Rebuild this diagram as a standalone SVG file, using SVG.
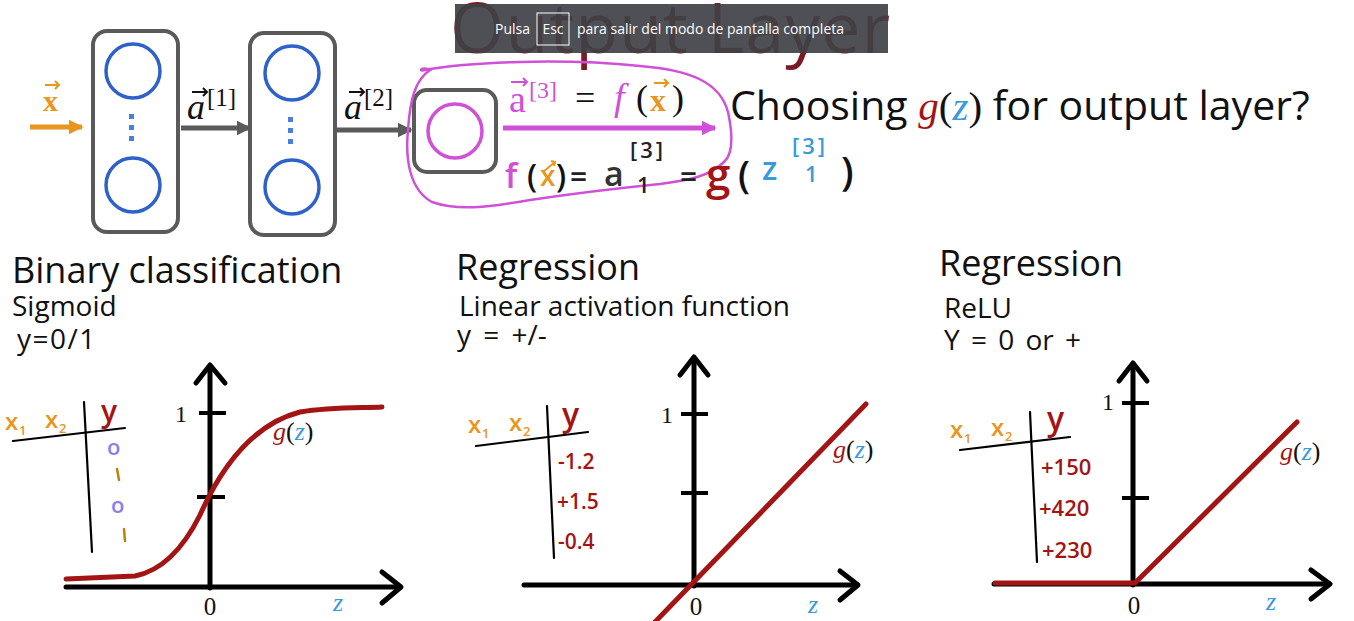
<svg xmlns="http://www.w3.org/2000/svg" width="1354" height="621" viewBox="0 0 1354 621">
<defs>
<style>
.box{fill:none;stroke:#5a5a5a;stroke-width:4}
.neu{fill:none;stroke:#2E62C9;stroke-width:3.5}
.dot{fill:#4A7FDB}
.ax{fill:none;stroke:#000;stroke-width:5;stroke-linecap:round;stroke-linejoin:round}
.tick{stroke:#000;stroke-width:4}
.crv{fill:none;stroke:#A31515;stroke-width:5;stroke-linecap:round;stroke-linejoin:round}
.hd{fill:none;stroke:#000;stroke-width:2.2;stroke-linecap:round}
.sans{font-family:"Open Sans","DejaVu Sans",sans-serif;fill:#111}
.serif{font-family:"Liberation Serif","DejaVu Serif",serif}
.hand{font-family:"Open Sans","DejaVu Sans",sans-serif;font-weight:600}
.red{fill:#A31515}
.blue{fill:#3A9AD9}
.org{fill:#E8961E}
.mag{fill:#D050D8}
</style>
<marker id="gh" viewBox="0 0 10 10" refX="9" refY="5" markerWidth="3" markerHeight="3.2" orient="auto"><path d="M0,0L10,5L0,10z" fill="#5a5a5a"/></marker>
<marker id="oh" viewBox="0 0 10 10" refX="9" refY="5" markerWidth="3" markerHeight="3.2" orient="auto"><path d="M0,0L10,5L0,10z" fill="#E8961E"/></marker>
<marker id="mh" viewBox="0 0 10 10" refX="9" refY="5" markerWidth="3" markerHeight="3.2" orient="auto"><path d="M0,0L10,5L0,10z" fill="#D050D8"/></marker>
</defs>
<rect width="1354" height="621" fill="#fff"/>

<!-- Title behind overlay -->
<text x="450" y="53" font-family="Open Sans, DejaVu Sans, sans-serif" font-size="70" fill="#7A1A22" textLength="440">Output Layer</text>
<g id="overlay">
<rect x="455" y="4" width="433" height="49" fill="#3f4147" opacity="0.92"/>
<text x="495" y="34" font-family="Open Sans, sans-serif" font-size="14" fill="#fff">Pulsa</text>
<rect x="537" y="13" width="32" height="32" fill="none" stroke="#fff" stroke-width="1"/>
<text x="553" y="34" text-anchor="middle" font-family="Open Sans, sans-serif" font-size="14" fill="#fff">Esc</text>
<text x="577" y="34" font-family="Open Sans, sans-serif" font-size="14" fill="#fff">para salir del modo de pantalla completa</text>
</g>

<!-- Network -->
<g id="input">
<text x="43" y="111" class="serif org" font-size="30" font-weight="bold">x</text>
<path d="M45,85 L59,85 M55,81 L59,85 L55,89" fill="none" stroke="#E8961E" stroke-width="2"/>
</g>
<g id="layer1">
<rect x="93" y="31" width="85" height="201" rx="14" class="box"/>
<circle cx="133" cy="71" r="27" class="neu"/>
<circle cx="133" cy="185" r="27" class="neu"/>
<rect x="129" y="114" width="5" height="5" class="dot"/>
<rect x="129" y="125" width="5" height="5" class="dot"/>
<rect x="129" y="136" width="5" height="5" class="dot"/>
</g>
<g id="layer2">
<rect x="250" y="33" width="85" height="202" rx="14" class="box"/>
<circle cx="292" cy="73" r="27" class="neu"/>
<circle cx="292" cy="187" r="27" class="neu"/>
<rect x="288" y="117" width="5" height="5" class="dot"/>
<rect x="288" y="128" width="5" height="5" class="dot"/>
<rect x="288" y="139" width="5" height="5" class="dot"/>
</g>
<g id="layer3">
<rect x="414" y="90" width="82" height="82" rx="13" class="box"/>
<circle cx="455" cy="131" r="27" fill="none" stroke="#D050D8" stroke-width="3.5"/>
</g>

<g id="connectors">
<line x1="30" y1="127" x2="82" y2="127" stroke="#E8961E" stroke-width="5" marker-end="url(#oh)"/>
<line x1="181" y1="128" x2="250" y2="128" stroke="#5a5a5a" stroke-width="5" marker-end="url(#gh)"/>
<line x1="337" y1="130" x2="411" y2="130" stroke="#5a5a5a" stroke-width="5" marker-end="url(#gh)"/>
<line x1="503" y1="128" x2="715" y2="128" stroke="#D050D8" stroke-width="5" marker-end="url(#mh)"/>
</g>

<g id="labels-a">
<text x="187" y="119" class="serif" font-size="36" font-style="italic" fill="#111">a</text>
<path d="M192,92 L207,92 M203,88 L207,92 L203,96" fill="none" stroke="#111" stroke-width="2"/>
<text x="207" y="106" class="serif" font-size="25" fill="#111">[1]</text>
<text x="344" y="119" class="serif" font-size="36" font-style="italic" fill="#111">a</text>
<path d="M349,92 L364,92 M360,88 L364,92 L360,96" fill="none" stroke="#111" stroke-width="2"/>
<text x="364" y="106" class="serif" font-size="25" fill="#111">[2]</text>
</g>

<!-- Magenta loop -->
<path d="M432,70 C420,66 418,72 425,70 C470,62 560,58 640,66 C690,70 720,82 728,112 C734,140 732,155 724,162 C710,176 690,180 660,184 C620,188 570,194 530,200 C495,206 460,212 432,202 C410,190 405,160 408,130 C410,100 415,80 430,70" fill="none" stroke="#D050D8" stroke-width="2.5"/>

<g id="eq-top">
<text x="509" y="112" class="serif mag" font-size="38">a</text>
<path d="M511,82 L527,82 M523,78 L527,82 L523,86" fill="none" stroke="#D050D8" stroke-width="2"/>
<text x="529" y="98" class="serif mag" font-size="24">[3]</text>
<text x="575" y="110" class="serif" font-size="36" fill="#111">=</text>
<text x="614" y="110" class="serif mag" font-size="38" font-style="italic">f</text>
<text x="636" y="110" class="serif" font-size="36" fill="#111">(</text>
<text x="650" y="111" class="serif org" font-size="32" font-weight="bold">x</text>
<path d="M654,83 L668,83 M664,79 L668,83 L664,87" fill="none" stroke="#E8961E" stroke-width="2"/>
<text x="672" y="110" class="serif" font-size="36" fill="#111">)</text>
</g>

<g id="eq-hand">
<text x="505" y="188" class="hand mag" font-size="34">f</text>
<text x="527" y="187" class="hand" font-size="32" fill="#111">(</text>
<text x="540" y="186" class="hand org" font-size="28">x</text>
<path d="M543,172 L555,162 M551,161 L555,162 L554,166" fill="none" stroke="#E8961E" stroke-width="2"/>
<text x="556" y="187" class="hand" font-size="32" fill="#111">)</text>
<text x="570" y="188" class="hand" font-size="30" fill="#222">=</text>
<text x="604" y="186" class="hand" font-size="34" fill="#333">a</text>
<text x="630" y="158" class="hand" font-size="22" fill="#222" letter-spacing="3">[3]</text>
<text x="637" y="193" class="hand" font-size="22" fill="#222">1</text>
<text x="680" y="188" class="hand" font-size="30" fill="#222">=</text>
<text x="706" y="190" class="hand red" font-size="44" font-weight="400">g</text>
<text x="738" y="188" class="hand" font-size="38" fill="#111">(</text>
<text x="762" y="180" class="hand blue" font-size="32">z</text>
<text x="792" y="154" class="hand blue" font-size="22" letter-spacing="3">[3]</text>
<text x="805" y="182" class="hand blue" font-size="22">1</text>
<text x="841" y="186" class="hand" font-size="40" fill="#111">)</text>
</g>

<g id="question">
<text x="730" y="120" class="sans" font-size="41">Choosing <tspan class="serif red" font-style="italic">g</tspan><tspan class="serif" fill="#111">(</tspan><tspan class="serif blue" font-style="italic">z</tspan><tspan class="serif" fill="#111">)</tspan> for output layer?</text>
</g>

<!-- Panel 1: sigmoid -->
<g id="panel-sigmoid">
<text x="12" y="283" class="sans" font-size="36">Binary classification</text>
<text x="12" y="316" class="sans" font-size="28">Sigmoid</text>
<text x="17" y="349" class="sans" font-size="28" letter-spacing="1.5">y=0/1</text>
<line x1="66" y1="587" x2="400" y2="587" class="ax"/>
<polyline points="382,572 401,587 382,603" class="ax"/>
<line x1="210" y1="588" x2="210" y2="366" class="ax"/>
<polyline points="196,383 210,365 225,383" class="ax"/>
<line x1="199" y1="413" x2="226" y2="413" class="tick"/>
<line x1="197" y1="497" x2="225" y2="497" class="tick"/>
<text x="187" y="422" text-anchor="end" class="serif" font-size="24" fill="#111">1</text>
<text x="210" y="615" text-anchor="middle" class="serif" font-size="25" fill="#111">0</text>
<text x="333" y="611" class="serif blue" font-size="26" font-style="italic">z</text>
<path d="M66,579 L135,576 C165,570 185,545 200,515 C220,470 250,425 300,412 C330,407 360,408 382,407" class="crv"/>
<text x="273" y="440" class="serif" font-size="26"><tspan class="red" font-style="italic">g</tspan><tspan fill="#111">(</tspan><tspan class="blue" font-style="italic">z</tspan><tspan fill="#111">)</tspan></text>
<text x="5" y="430" class="hand org" font-size="24">x</text><text x="19" y="435" class="hand org" font-size="13">1</text>
<text x="45" y="428" class="hand org" font-size="24">x</text><text x="59" y="433" class="hand org" font-size="13">2</text>
<path d="M13,441 L125,428" class="hd"/>
<path d="M84,402 L92,552" class="hd"/>
<text x="101" y="422" class="hand red" font-size="30">y</text>
<text x="107" y="455" class="hand" font-size="22" fill="#8A7FE8">o</text>
<path d="M117,469 L119,480" stroke="#B8860B" stroke-width="2.5" stroke-linecap="round"/>
<text x="111" y="513" class="hand" font-size="22" fill="#8A7FE8">o</text>
<path d="M124,529 L125,541" stroke="#B8860B" stroke-width="2.5" stroke-linecap="round"/>
</g>

<!-- Panel 2: linear -->
<g id="panel-linear">
<text x="456" y="280" class="sans" font-size="36">Regression</text>
<text x="459" y="316" class="sans" font-size="28">Linear activation function</text>
<text x="457" y="345" class="sans" font-size="28" word-spacing="5">y = +/-</text>
<line x1="524" y1="585" x2="857" y2="585" class="ax"/>
<polyline points="840,571 858,585 840,600" class="ax"/>
<line x1="694" y1="586" x2="694" y2="358" class="ax"/>
<polyline points="680,375 694,357 708,375" class="ax"/>
<line x1="681" y1="414" x2="708" y2="414" class="tick"/>
<line x1="681" y1="493" x2="708" y2="493" class="tick"/>
<text x="673" y="423" text-anchor="end" class="serif" font-size="24" fill="#111">1</text>
<text x="696" y="615" text-anchor="middle" class="serif" font-size="25" fill="#111">0</text>
<text x="808" y="613" class="serif blue" font-size="26" font-style="italic">z</text>
<line x1="655" y1="622" x2="866" y2="404" class="crv"/>
<text x="833" y="458" class="serif" font-size="26"><tspan class="red" font-style="italic">g</tspan><tspan fill="#111">(</tspan><tspan class="blue" font-style="italic">z</tspan><tspan fill="#111">)</tspan></text>
<text x="468" y="433" class="hand org" font-size="24">x</text><text x="482" y="438" class="hand org" font-size="13">1</text>
<text x="509" y="431" class="hand org" font-size="24">x</text><text x="523" y="436" class="hand org" font-size="13">2</text>
<path d="M476,446 L588,432" class="hd"/>
<path d="M547,406 L554,558" class="hd"/>
<text x="562" y="426" class="hand red" font-size="32">y</text>
<text x="558" y="469" class="hand red" font-size="21">-1.2</text>
<text x="557" y="509" class="hand red" font-size="21">+1.5</text>
<text x="558" y="549" class="hand red" font-size="21">-0.4</text>
</g>

<!-- Panel 3: ReLU -->
<g id="panel-relu">
<text x="939" y="276" class="sans" font-size="36">Regression</text>
<text x="944" y="318" class="sans" font-size="28">ReLU</text>
<text x="944" y="350" class="sans" font-size="28" word-spacing="4">Y = 0 or +</text>
<line x1="994" y1="584" x2="1329" y2="584" class="ax"/>
<polyline points="1311,570 1330,584 1311,599" class="ax"/>
<line x1="1133" y1="585" x2="1133" y2="364" class="ax"/>
<polyline points="1119,381 1133,363 1147,381" class="ax"/>
<line x1="1122" y1="403" x2="1149" y2="403" class="tick"/>
<line x1="1122" y1="498" x2="1149" y2="498" class="tick"/>
<text x="1114" y="410" text-anchor="end" class="serif" font-size="24" fill="#111">1</text>
<text x="1134" y="614" text-anchor="middle" class="serif" font-size="25" fill="#111">0</text>
<text x="1266" y="610" class="serif blue" font-size="26" font-style="italic">z</text>
<polyline points="995,583 1135,583 1297,422" class="crv"/>
<text x="1280" y="460" class="serif" font-size="26"><tspan class="red" font-style="italic">g</tspan><tspan fill="#111">(</tspan><tspan class="blue" font-style="italic">z</tspan><tspan fill="#111">)</tspan></text>
<text x="950" y="438" class="hand org" font-size="24">x</text><text x="964" y="443" class="hand org" font-size="13">1</text>
<text x="991" y="436" class="hand org" font-size="24">x</text><text x="1005" y="441" class="hand org" font-size="13">2</text>
<path d="M960,450 L1070,437" class="hd"/>
<path d="M1030,412 L1037,562" class="hd"/>
<text x="1047" y="430" class="hand red" font-size="32">y</text>
<text x="1041" y="475" class="hand red" font-size="22">+150</text>
<text x="1039" y="516" class="hand red" font-size="22">+420</text>
<text x="1042" y="558" class="hand red" font-size="22">+230</text>
</g>
</svg>
